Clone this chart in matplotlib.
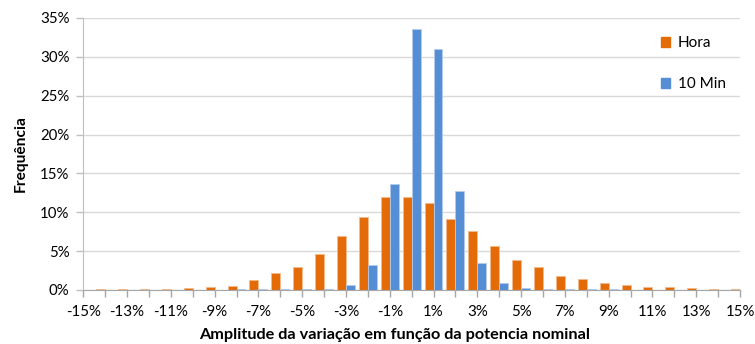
import matplotlib
matplotlib.use("Agg")
import matplotlib.pyplot as plt
from matplotlib.patches import Patch
from matplotlib.ticker import FuncFormatter, MultipleLocator
import numpy as np

plt.rcParams['font.family'] = ['Lato', 'DejaVu Sans']

categories = list(range(-15, 16))  # amplitude in %
hora = [0.1, 0.1, 0.1, 0.1, 0.1, 0.2, 0.4, 0.55, 1.25, 2.2, 3.0, 4.6, 6.9, 9.35, 11.95,
        11.95, 11.2, 9.15, 7.6, 5.65, 3.9, 2.9, 1.85, 1.37, 0.9, 0.7, 0.4, 0.4, 0.3, 0.1, 0.1]
min10 = [0, 0, 0, 0, 0, 0, 0, 0.1, 0.1, 0.1, 0.1, 0.1, 0.6, 3.2, 13.7,
         33.55, 31.05, 12.8, 3.43, 0.9, 0.2, 0.1, 0.1, 0.1, 0.1, 0, 0, 0, 0, 0, 0]
series_names = ["Hora", "10 Min"]
colors = ["#E36C09", "#558ED5"]
edge_colors = ["#F6B98A", "#B4CDEE"]

fig = plt.figure(figsize=(7.55, 3.44), dpi=100)
ax = fig.add_axes([0.1103, 0.157, 0.8698, 0.7907])

x = np.array(categories, dtype=float)
w = 0.41
ax.bar(x - w / 2, hora, width=w, color=colors[0], edgecolor=edge_colors[0], linewidth=0.6, zorder=3)
ax.bar(x + w / 2, min10, width=w, color=colors[1], edgecolor=edge_colors[1], linewidth=0.6, zorder=3)

ax.set_xlim(-15, 15)
ax.set_ylim(0, 35)
ax.yaxis.set_major_locator(MultipleLocator(5))
ax.yaxis.set_major_formatter(FuncFormatter(lambda v, p: f"{v:.0f}%"))
ax.set_xticks(categories)
ax.set_xticklabels([f"{c}%" if c % 2 != 0 else "" for c in categories])

ax.grid(axis='y', color='#D9D9D9', linewidth=1.0, zorder=0)
ax.set_axisbelow(True)
for s in ['top', 'right']:
    ax.spines[s].set_visible(False)
ax.spines['left'].set_color('#BFBFBF')
ax.spines['bottom'].set_color('#A6A6A6')
ax.spines['left'].set_zorder(4)
ax.spines['bottom'].set_zorder(4)
ax.tick_params(axis='x', colors='#A6A6A6', length=5, width=1, labelcolor='#000000', labelsize=10.8, pad=6)
ax.tick_params(axis='y', colors='#BFBFBF', length=5, width=1, labelcolor='#000000', labelsize=10.8, pad=5)

ax.set_xlabel("Amplitude da variação em função da potencia nominal", fontsize=11.7,
              fontweight='bold', labelpad=6, x=0.474)
ax.set_ylabel("Frequência", fontsize=11.2, fontweight='bold', labelpad=9)

handles = [Patch(facecolor=colors[i], edgecolor=colors[i]) for i in range(2)]
leg = ax.legend(handles, series_names, loc='upper left', bbox_to_anchor=(0.87, 0.955),
                frameon=False, fontsize=11, handlelength=0.6, handleheight=0.6,
                handletextpad=0.5, labelspacing=1.75, borderaxespad=0)

fig.savefig("out.png", dpi=100)
